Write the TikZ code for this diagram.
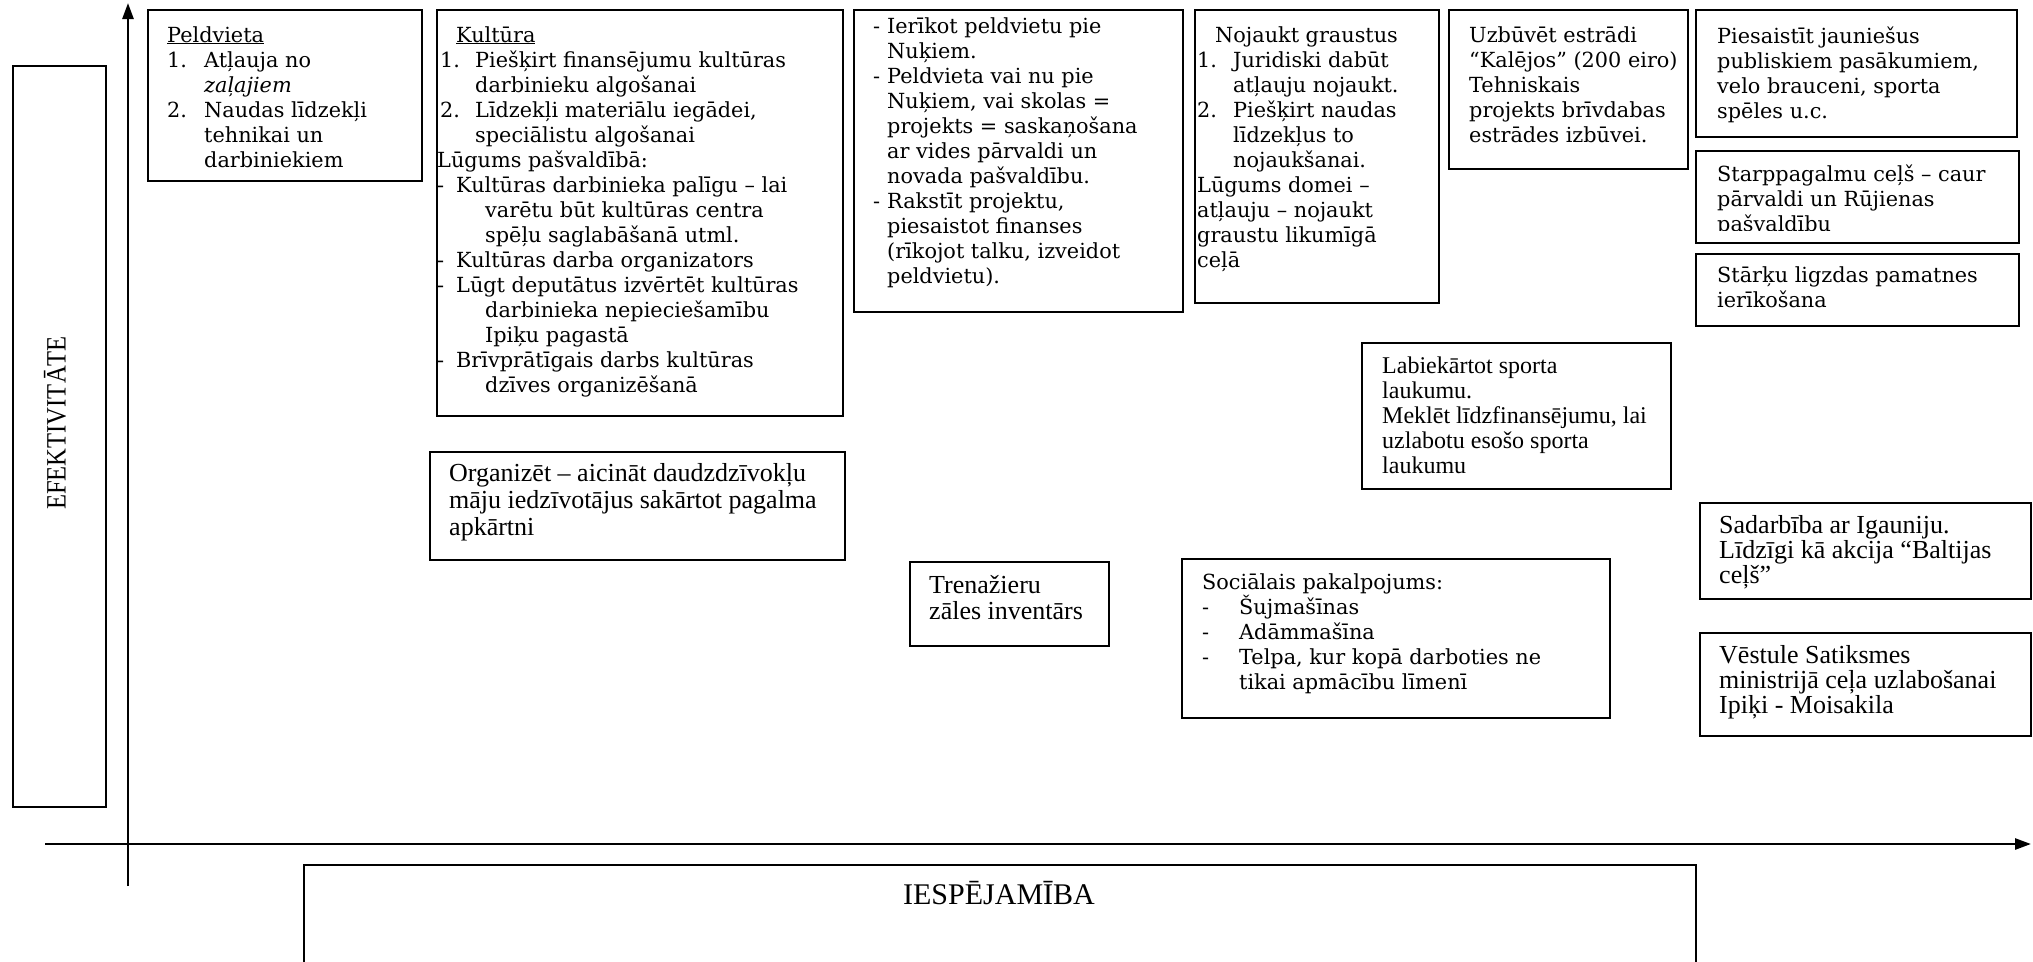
\documentclass[tikz,border=0pt]{standalone}
\usepackage{fontspec}
\setmainfont{DejaVu Serif}
\newfontfamily\tnrfont{Liberation Serif}
\newfontfamily\tnrcond[FakeStretch=0.88]{Liberation Serif}
\usepackage{tikz}
\usetikzlibrary{arrows.meta}
\usetikzlibrary{positioning}

\newcommand{\lns}[1]{\parbox[t]{600pt}{\raggedright #1}}
\newcommand{\num}[2]{\makebox[#1][l]{#2}}

\tikzset{
	box/.style={draw, line width=1.8pt, anchor=north west, inner sep=0pt},
	ctxt/.style={anchor=base west, inner sep=0pt, font=\fontsize{20.8}{25}\selectfont},
	ttxt/.style={anchor=base west, inner sep=0pt, font=\tnrfont\fontsize{26}{25}\selectfont},
	axis/.style={line width=2.6pt, -{Triangle[length=16pt,width=11pt]}}
}

\begin{document}
\begin{tikzpicture}[x=1pt, y=-1pt]
			\useasboundingbox (0,0) rectangle (2033,961);
			\clip (0,0) rectangle (2033,961);
			
			\node[box, minimum width=93pt, minimum height=741pt] (0) at (12,65) {};
			\node[box, minimum width=274pt, minimum height=171pt] (1) at (147,9) {};
			\node[box, minimum width=406pt, minimum height=406pt] (2) at (436,9) {};
			\node[box, minimum width=329pt, minimum height=302pt] (3) at (853,9) {};
			\node[box, minimum width=244pt, minimum height=293pt] (4) at (1194,9) {};
			\node[box, minimum width=239pt, minimum height=159pt] (5) at (1448,9) {};
			\node[box, minimum width=321pt, minimum height=127pt] (6) at (1695,9) {};
			\node[box, minimum width=323pt, minimum height=92pt] (7) at (1695,150) {};
			\node[box, minimum width=323pt, minimum height=72pt] (8) at (1695,253) {};
			\node[box, minimum width=309pt, minimum height=146pt] (9) at (1361,342) {};
			\node[box, minimum width=415pt, minimum height=108pt] (10) at (429,451) {};
			\node[box, minimum width=199pt, minimum height=84pt] (11) at (909,561) {};
			\node[box, minimum width=428pt, minimum height=159pt] (12) at (1181,558) {};
			\node[box, minimum width=331pt, minimum height=96pt] (13) at (1699,502) {};
			\node[box, minimum width=331pt, minimum height=103pt] (14) at (1699,632) {};
			\node[box, minimum width=1392pt, minimum height=130pt] (15) at (303,864) {};
			
			\node[rotate=90, font=\tnrcond\fontsize{28}{30}\selectfont] (0t) at (55,423) {EFEKTIVITĀTE};
			\node[font=\tnrfont\fontsize{30}{32}\selectfont] (15t) at (999,893) {IESPĒJAMĪBA};
			
			\node[ctxt] (1t) at (167,42) {\lns{\underline{Peldvieta}\\
				\num{37pt}{1.}Atļauja no\\ \hspace*{37pt}\textit{zaļajiem}\\
				\num{37pt}{2.}Naudas līdzekļi\\ \hspace*{37pt}tehnikai un\\ \hspace*{37pt}darbiniekiem}};
			
			\node[ctxt] (2t) at (437,42) {\lns{\hspace*{19pt}\underline{Kultūra}\\
				\hspace*{3pt}\num{35pt}{1.}Piešķirt finansējumu kultūras\\ \hspace*{38pt}darbinieku algošanai\\
				\hspace*{3pt}\num{35pt}{2.}Līdzekļi materiālu iegādei,\\ \hspace*{38pt}speciālistu algošanai\\
				Lūgums pašvaldībā:\\
				\num{19pt}{-}Kultūras darbinieka palīgu – lai\\ \hspace*{48pt}varētu būt kultūras centra\\ \hspace*{48pt}spēļu saglabāšanā utml.\\
				\num{19pt}{-}Kultūras darba organizators\\
				\num{19pt}{-}Lūgt deputātus izvērtēt kultūras\\ \hspace*{48pt}darbinieka nepieciešamību\\ \hspace*{48pt}Ipiķu pagastā\\
				\num{19pt}{-}Brīvprātīgais darbs kultūras\\ \hspace*{48pt}dzīves organizēšanā}};
			
			\node[ctxt] (3t) at (873,33) {\lns{\num{14pt}{-}Ierīkot peldvietu pie\\ \hspace*{14pt}Nuķiem.\\
				\num{14pt}{-}Peldvieta vai nu pie\\ \hspace*{14pt}Nuķiem, vai skolas =\\ \hspace*{14pt}projekts = saskaņošana\\
				\hspace*{14pt}ar vides pārvaldi un\\ \hspace*{14pt}novada pašvaldību.\\
				\num{14pt}{-}Rakstīt projektu,\\ \hspace*{14pt}piesaistot finanses\\ \hspace*{14pt}(rīkojot talku, izveidot\\ \hspace*{14pt}peldvietu).}};
			
			\node[ctxt] (4t) at (1197,42) {\lns{\hspace*{18pt}Nojaukt graustus\\
				\num{36pt}{1.}Juridiski dabūt\\ \hspace*{36pt}atļauju nojaukt.\\
				\num{36pt}{2.}Piešķirt naudas\\ \hspace*{36pt}līdzekļus to\\ \hspace*{36pt}nojaukšanai.\\
				Lūgums domei –\\ atļauju – nojaukt\\ graustu likumīgā\\ ceļā}};
			
			\node[ctxt] (5t) at (1469,42) {\lns{Uzbūvēt estrādi\\ “Kalējos” (200 eiro)\\ Tehniskais\\ projekts brīvdabas\\ estrādes izbūvei.}};
			\node[ctxt] (6t) at (1717,43) {\lns{Piesaistīt jauniešus\\ publiskiem pasākumiem,\\ velo brauceni, sporta\\ spēles u.c.}};
			\begin{scope}
				\clip (1695,150) rectangle (2018,230);
				\node[ctxt] (7t) at (1717,181) {\lns{Starppagalmu ceļš – caur\\ pārvaldi un Rūjienas\\ pašvaldību}};
			\end{scope}
			\node[ctxt] (8t) at (1717,282) {\lns{Stārķu ligzdas pamatnes\\ ierīkošana}};
			
			\node[ttxt, font=\tnrfont\fontsize{24}{25}\selectfont] (9t) at (1382,373) {\lns{Labiekārtot sporta\\ laukumu.\\ Meklēt līdzfinansējumu, lai\\ uzlabotu esošo sporta\\ laukumu}};
			\node[ttxt, font=\tnrfont\fontsize{26}{27}\selectfont] (10t) at (449,481) {\lns{Organizēt – aicināt daudzdzīvokļu\\ māju iedzīvotājus sakārtot pagalma\\ apkārtni}};
			\node[ttxt, font=\tnrfont\fontsize{26}{26}\selectfont] (11t) at (929,593) {\lns{Trenažieru\\ zāles inventārs}};
			
			\node[ctxt] (12t) at (1202,589) {\lns{Sociālais pakalpojums:\\
				\num{37pt}{-}Šujmašīnas\\ \num{37pt}{-}Adāmmašīna\\
				\num{37pt}{-}Telpa, kur kopā darboties ne\\ \hspace*{37pt}tikai apmācību līmenī}};
			
			\node[ttxt] (13t) at (1719,533) {\lns{Sadarbība ar Igauniju.\\ Līdzīgi kā akcija “Baltijas\\ ceļš”}};
			\node[ttxt] (14t) at (1719,663) {\lns{Vēstule Satiksmes\\ ministrijā ceļa uzlabošanai\\ Ipiķi - Moisakila}};
			
			\coordinate (yFoot) at (128,886);
			\coordinate (yTop) at (128,3);
			\coordinate (xFoot) at (45,844);
			\coordinate (xTip) at (2031,844);
			\draw[axis] (yFoot) -- (yTop);
			\draw[axis] (xFoot) -- (xTip);
			
		\end{tikzpicture}
\end{document}
